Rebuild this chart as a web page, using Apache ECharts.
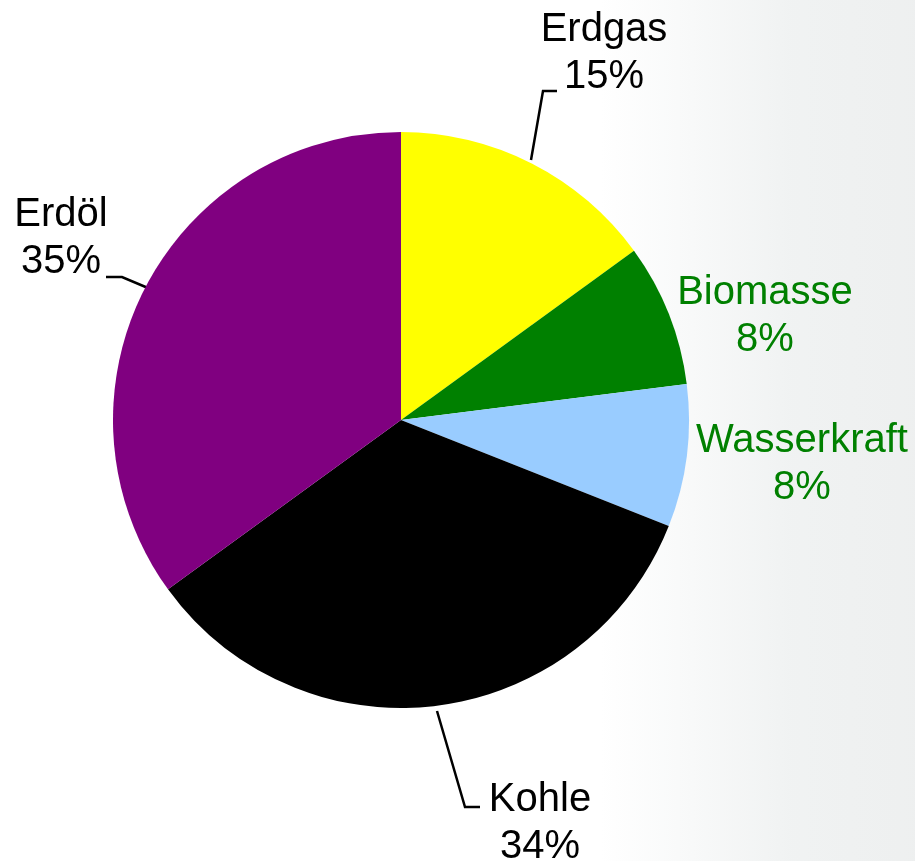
<!DOCTYPE html>
<html>
<head>
<meta charset="utf-8">
<script src="https://cdn.jsdelivr.net/npm/echarts@6/dist/echarts.min.js"></script>
<style>
html, body { margin: 0; padding: 0; background: #fff; }
#chart { width: 915px; height: 861px; }
</style>
</head>
<body>
<div id="chart"></div>
<script>
// Energieträger, im Uhrzeigersinn ab 12 Uhr
var categories = ['Erdgas', 'Biomasse', 'Wasserkraft', 'Kohle', 'Erdöl'];
var shares = [15, 8, 8, 34, 35];
var colors = ['#ffff00', '#008000', '#99ccff', '#000000', '#800080'];
var labelColors = ['#000', '#008000', '#008000', '#000', '#000'];

// Lage der Beschriftungen (Mitte des Textblocks) und Führungslinien
var labelPos = [
    { x: 604, y: 53, line: [[531, 160], [543, 91], [557, 91]] },
    { x: 765, y: 316, line: null },
    { x: 802, y: 464, line: null },
    { x: 540, y: 823, line: [[437, 711], [465, 807], [480, 807]] },
    { x: 61, y: 238, line: [[148, 288], [122, 277], [106, 277]] }
];

function getID(ID) {
    return document.getElementById(ID);
}

var pieData = [];
for (var i = 0; i < categories.length; i++) {
    pieData.push({
        name: categories[i],
        value: shares[i],
        itemStyle: { color: colors[i] },
        label: { color: labelColors[i] },
        labelLine: { show: labelPos[i].line != null }
    });
}

var myChart = echarts.init(getID('chart'));
var option = {
    backgroundColor: '#ffffff',
    animation: false,
    graphic: [
        {
            type: 'rect',
            z: -10,
            shape: { x: 600, y: 0, width: 315, height: 861 },
            style: {
                fill: {
                    type: 'linear', x: 0, y: 0, x2: 1, y2: 0,
                    colorStops: [
                        { offset: 0, color: 'rgba(235,238,238,0)' },
                        { offset: 0.6, color: 'rgba(234,237,237,0.7)' },
                        { offset: 1, color: 'rgba(236,238,238,0.9)' }
                    ]
                }
            }
        }
    ],
    series: [{
        type: 'pie',
        center: [401, 420],
        radius: 288,
        startAngle: 90,
        clockwise: true,
        data: pieData,
        itemStyle: { borderWidth: 0 },
        emphasis: { disabled: true },
        label: {
            show: true,
            position: 'outside',
            formatter: function (p) {
                return p.name + '\n' + p.value + '%';
            },
            fontFamily: 'Liberation Sans, Arial, sans-serif',
            fontSize: 40,
            lineHeight: 47,
            align: 'center',
            overflow: 'none'
        },
        labelLine: {
            show: true,
            lineStyle: { color: '#000', width: 2.5 }
        },
        labelLayout: function (params) {
            var p = labelPos[params.dataIndex];
            var res = { x: p.x, y: p.y, align: 'center', verticalAlign: 'middle', width: 260 };
            if (p.line) {
                res.labelLinePoints = p.line;
            }
            return res;
        }
    }]
};
myChart.setOption(option);
</script>
</body>
</html>
